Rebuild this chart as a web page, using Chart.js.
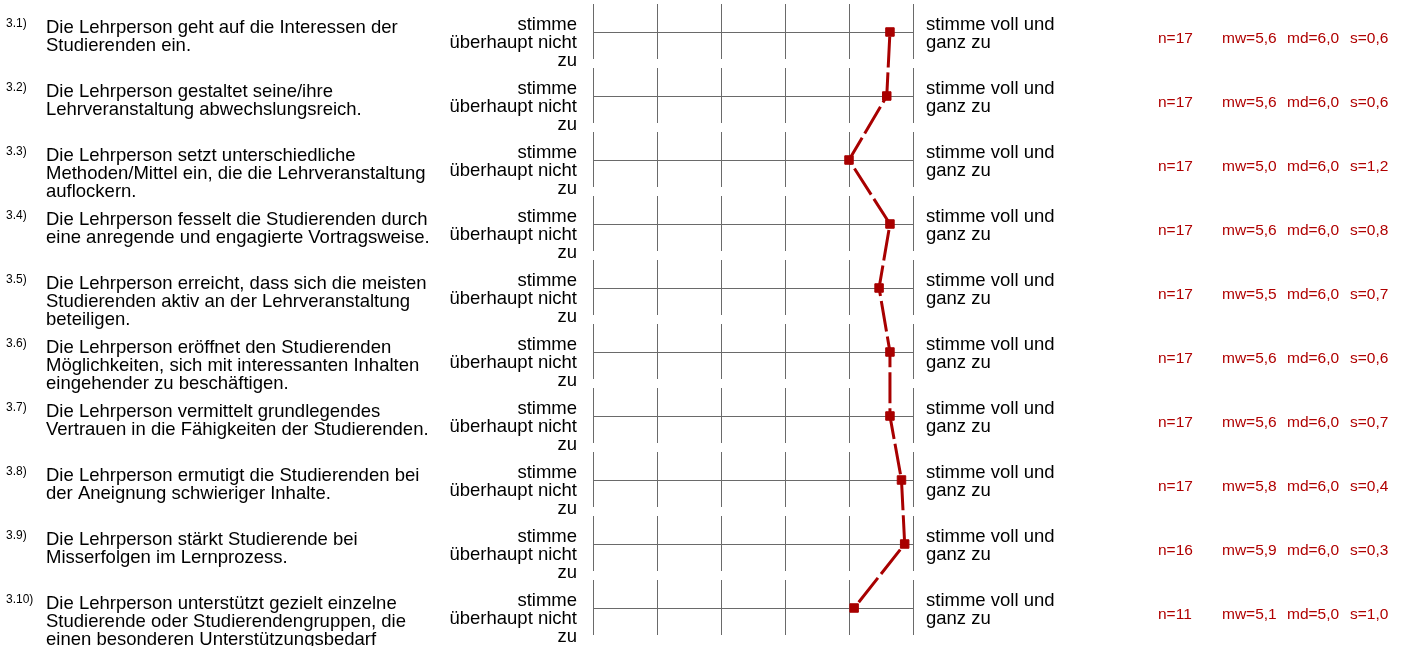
<!DOCTYPE html>
<html><head><meta charset="utf-8">
<script src="https://cdn.jsdelivr.net/npm/chart.js@4.4.1/dist/chart.umd.min.js"></script>
<style>html,body{margin:0;padding:0;background:#fff;overflow:hidden}#wrap{position:relative;width:1407px;height:646px}</style>
</head><body><div id="wrap"><canvas id="c" width="1407" height="646"></canvas></div>
<script>
const codes = ['3.1)','3.2)','3.3)','3.4)','3.5)','3.6)','3.7)','3.8)','3.9)','3.10)'];
const itemTexts = [
  ['Die Lehrperson geht auf die Interessen der','Studierenden ein.'],
  ['Die Lehrperson gestaltet seine/ihre','Lehrveranstaltung abwechslungsreich.'],
  ['Die Lehrperson setzt unterschiedliche','Methoden/Mittel ein, die die Lehrveranstaltung','auflockern.'],
  ['Die Lehrperson fesselt die Studierenden durch','eine anregende und engagierte Vortragsweise.'],
  ['Die Lehrperson erreicht, dass sich die meisten','Studierenden aktiv an der Lehrveranstaltung','beteiligen.'],
  ['Die Lehrperson eröffnet den Studierenden','Möglichkeiten, sich mit interessanten Inhalten','eingehender zu beschäftigen.'],
  ['Die Lehrperson vermittelt grundlegendes','Vertrauen in die Fähigkeiten der Studierenden.'],
  ['Die Lehrperson ermutigt die Studierenden bei','der Aneignung schwieriger Inhalte.'],
  ['Die Lehrperson stärkt Studierende bei','Misserfolgen im Lernprozess.'],
  ['Die Lehrperson unterstützt gezielt einzelne','Studierende oder Studierendengruppen, die','einen besonderen Unterstützungsbedarf']
];
const leftPole = ['stimme','überhaupt nicht','zu'];
const rightPole = ['stimme voll und','ganz zu'];
const profileValues = [5.64, 5.59, 5.00, 5.64, 5.47, 5.64, 5.64, 5.82, 5.87, 5.08];
const nValues = [17,17,17,17,17,17,17,17,16,11];
const mwValues = [5.6,5.6,5.0,5.6,5.5,5.6,5.6,5.8,5.9,5.1];
const mdValues = [6.0,6.0,6.0,6.0,6.0,6.0,6.0,6.0,6.0,5.0];
const sValues = [0.6,0.6,1.2,0.8,0.7,0.6,0.7,0.4,0.3,1.0];
const scaleMin = 1, scaleMax = 6;

const FONT = "'Liberation Sans', Arial, Helvetica, sans-serif";
const fmt = v => v.toFixed(1).replace('.', ',');

const textPlugin = {
  id: 'itemText',
  afterDraw(chart) {
    const ctx = chart.ctx;
    const y = chart.scales.y;
    ctx.save();
    codes.forEach((code, i) => {
      const cy = y.getPixelForValue(i);
      ctx.textAlign = 'left';
      ctx.textBaseline = 'alphabetic';
      ctx.fillStyle = '#000';
      ctx.font = '12px ' + FONT;
      ctx.fillText(code, 6, cy - 5);
      ctx.font = '18.5px ' + FONT;
      itemTexts[i].forEach((line, k) => ctx.fillText(line, 46, cy + 1 + k * 18));
      ctx.fillStyle = '#b00000';
      ctx.font = '15.5px ' + FONT;
      ctx.textBaseline = 'middle';
      ctx.fillText('n=' + nValues[i], 1158, cy + 7);
      ctx.fillText('mw=' + fmt(mwValues[i]), 1222, cy + 7);
      ctx.fillText('md=' + fmt(mdValues[i]), 1287, cy + 7);
      ctx.fillText('s=' + fmt(sValues[i]), 1350, cy + 7);
    });
    ctx.restore();
  }
};

new Chart(document.getElementById('c').getContext('2d'), {
  type: 'line',
  data: {
    labels: codes,
    datasets: [{
      data: profileValues,
      borderColor: '#a80000',
      backgroundColor: '#a80000',
      borderWidth: 3,
      borderDash: [31, 5],
      borderDashOffset: 31.5,
      pointStyle: 'rect',
      pointRadius: 6,
      pointHoverRadius: 6,
      pointBorderWidth: 1,
      pointBackgroundColor: '#a80000',
      pointBorderColor: '#a80000',
      fill: false,
      tension: 0
    }]
  },
  options: {
    indexAxis: 'y',
    responsive: false,
    animation: false,
    events: [],
    layout: { autoPadding: false, padding: { top: 0, bottom: 6, left: 0, right: 0 } },
    plugins: { legend: { display: false }, tooltip: { enabled: false } },
    scales: {
      x: {
        type: 'linear', min: scaleMin, max: scaleMax, position: 'bottom',
        ticks: { display: false, stepSize: 1 },
        grid: { color: '#6a6a6a', lineWidth: 1, drawTicks: false },
        border: { display: false, dash: [55, 9], dashOffset: 60 },
        afterFit(s) { s.height = 0; }
      },
      y: {
        type: 'category', position: 'left', offset: true,
        grid: { offset: false, color: '#6a6a6a', lineWidth: 1, drawTicks: false },
        border: { display: false },
        ticks: {
          autoSkip: false, padding: 16, labelOffset: 10.5, color: '#000',
          font: { family: FONT, size: 18.5, lineHeight: '18px' },
          callback: () => leftPole
        },
        afterFit(s) { s.width = 593; s.paddingTop = 0; s.paddingBottom = 0; }
      },
      y2: {
        type: 'category', position: 'right', offset: true,
        grid: { display: false, drawTicks: false },
        border: { display: false },
        ticks: {
          autoSkip: false, padding: 13, labelOffset: 2.4, color: '#000',
          font: { family: FONT, size: 18.5, lineHeight: '18px' },
          callback: () => rightPole
        },
        afterFit(s) { s.width = 494; s.paddingTop = 0; s.paddingBottom = 0; }
      }
    }
  },
  plugins: [textPlugin]
});
</script>
</body></html>
